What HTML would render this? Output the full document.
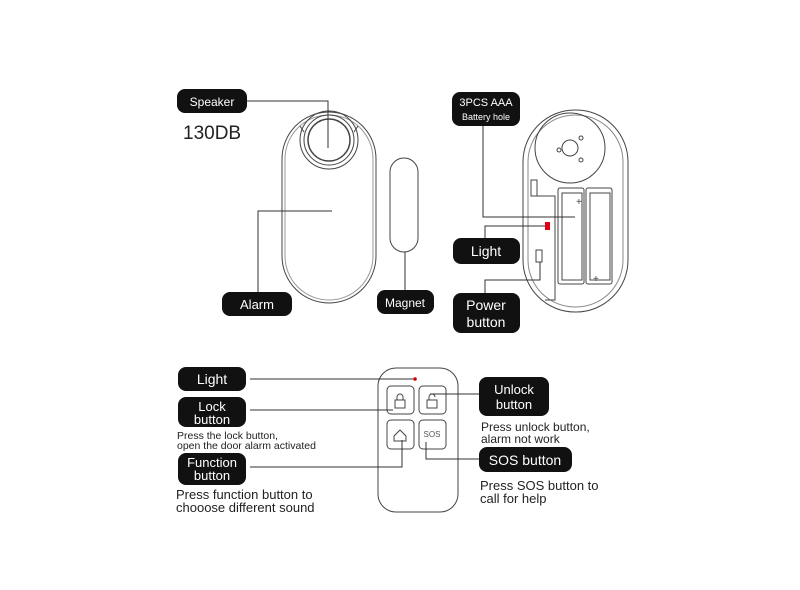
<!DOCTYPE html>
<html><head><style>body{margin:0;background:#fff}svg{display:block}text{font-family:"Liberation Sans",sans-serif}</style></head>
<body>
<svg width="800" height="590" viewBox="0 0 800 590" xmlns="http://www.w3.org/2000/svg">
<g fill="none" stroke="#444" stroke-width="1">
<!-- alarm device -->
<rect x="282" y="112" width="94" height="191" rx="47"/>
<rect x="285" y="115" width="88" height="185" rx="44" stroke="#999"/>
<circle cx="329" cy="140" r="29"/>
<circle cx="329" cy="140" r="25"/>
<circle cx="329" cy="140" r="21" stroke-width="1.5"/>
<line x1="300" y1="126" x2="304" y2="132"/><line x1="358" y1="126" x2="354" y2="132"/>
<rect x="390" y="158" width="28" height="94" rx="14"/>
<!-- back device -->
<rect x="523" y="110" width="105" height="202" rx="52"/>
<rect x="528" y="115" width="95" height="192" rx="47" stroke="#888"/>
<circle cx="570" cy="148" r="35"/>
<circle cx="570" cy="148" r="8"/>
<circle cx="559" cy="150" r="2"/><circle cx="581" cy="138" r="2"/><circle cx="581" cy="160" r="2"/>
<rect x="558" y="188" width="26" height="96" rx="2"/>
<rect x="562" y="193" width="20" height="87"/>
<rect x="586" y="188" width="26" height="96" rx="2"/>
<rect x="590" y="193" width="20" height="87"/>
<rect x="531" y="180" width="6" height="16"/>
<rect x="536" y="250" width="6" height="12"/>
<polyline points="537,196 555,196 555,300 545,300"/>
<!-- remote -->
<rect x="378" y="368" width="80" height="144" rx="18"/>
<rect x="387" y="386" width="27" height="28" rx="4"/>
<rect x="419" y="386" width="27" height="28" rx="4"/>
<rect x="387" y="420" width="27" height="29" rx="4"/>
<rect x="419" y="420" width="27" height="29" rx="4"/>
<rect x="395" y="400" width="10" height="8"/><path d="M397,400 v-3 a3,3 0 0 1 6,0 v3"/>
<rect x="427" y="400" width="10" height="8"/><path d="M429,400 v-3 a3,3 0 0 1 6,0"/>
<path d="M394,436 l6,-6 l6,6 v5 h-12z"/>
</g>
<text x="432" y="437" font-size="8" fill="#555" text-anchor="middle">SOS</text>
<text x="576" y="205" font-size="10" fill="#444">+</text>
<text x="593" y="282" font-size="10" fill="#444">+</text>
<rect x="545" y="222" width="5" height="8" fill="#e00010"/>
<circle cx="415" cy="379" r="1.8" fill="#c00"/>
<!-- connectors -->
<g fill="none" stroke="#333" stroke-width="1">
<polyline points="247,101 328,101 328,148"/>
<polyline points="258,292 258,211 332,211"/>
<line x1="405" y1="252" x2="405" y2="290"/>
<polyline points="483,126 483,217 575,217"/>
<polyline points="485,238 485,226 545,226"/>
<polyline points="485,293 485,280 540,280 540,262"/>
<line x1="250" y1="379" x2="413" y2="379"/>
<line x1="250" y1="410" x2="393" y2="410"/>
<polyline points="250,467 402,467 402,440"/>
<line x1="479" y1="394" x2="430" y2="394"/>
<polyline points="479,459 426,459 426,442"/>
</g>
<!-- labels -->
<g fill="#111">
<rect x="177" y="89" width="70" height="24" rx="8"/>
<rect x="222" y="292" width="70" height="24" rx="8"/>
<rect x="377" y="290" width="57" height="24" rx="8"/>
<rect x="452" y="92" width="68" height="34" rx="8"/>
<rect x="453" y="238" width="67" height="26" rx="8"/>
<rect x="453" y="293" width="67" height="40" rx="8"/>
<rect x="178" y="367" width="68" height="24" rx="8"/>
<rect x="178" y="397" width="68" height="30" rx="8"/>
<rect x="178" y="453" width="68" height="32" rx="8"/>
<rect x="479" y="377" width="70" height="39" rx="8"/>
<rect x="479" y="447" width="93" height="25" rx="8"/>
</g>
<g fill="#fff" text-anchor="middle">
<text x="212" y="106" font-size="12">Speaker</text>
<text x="257" y="309" font-size="13">Alarm</text>
<text x="405" y="307" font-size="12">Magnet</text>
<text x="486" y="106" font-size="11">3PCS AAA</text>
<text x="486" y="120" font-size="9">Battery hole</text>
<text x="486" y="256" font-size="14">Light</text>
<text x="486" y="310" font-size="14">Power</text>
<text x="486" y="327" font-size="14">button</text>
<text x="212" y="384" font-size="14">Light</text>
<text x="212" y="411" font-size="13">Lock</text>
<text x="212" y="424" font-size="13">button</text>
<text x="212" y="467" font-size="13">Function</text>
<text x="212" y="480" font-size="13">button</text>
<text x="514" y="394" font-size="13">Unlock</text>
<text x="514" y="409" font-size="13">button</text>
<text x="525" y="465" font-size="14">SOS button</text>
</g>
<g fill="#222">
<text x="183" y="139" font-size="19">130DB</text>
<text x="177" y="439" font-size="10.5">Press the lock button,</text>
<text x="177" y="449" font-size="10.5">open the door alarm activated</text>
<text x="176" y="499" font-size="13">Press function button to</text>
<text x="176" y="512" font-size="13">chooose different sound</text>
<text x="481" y="431" font-size="12">Press unlock button,</text>
<text x="481" y="443" font-size="12">alarm not work</text>
<text x="480" y="490" font-size="13">Press SOS button to</text>
<text x="480" y="503" font-size="13">call for help</text>
</g>
</svg>
</body></html>
